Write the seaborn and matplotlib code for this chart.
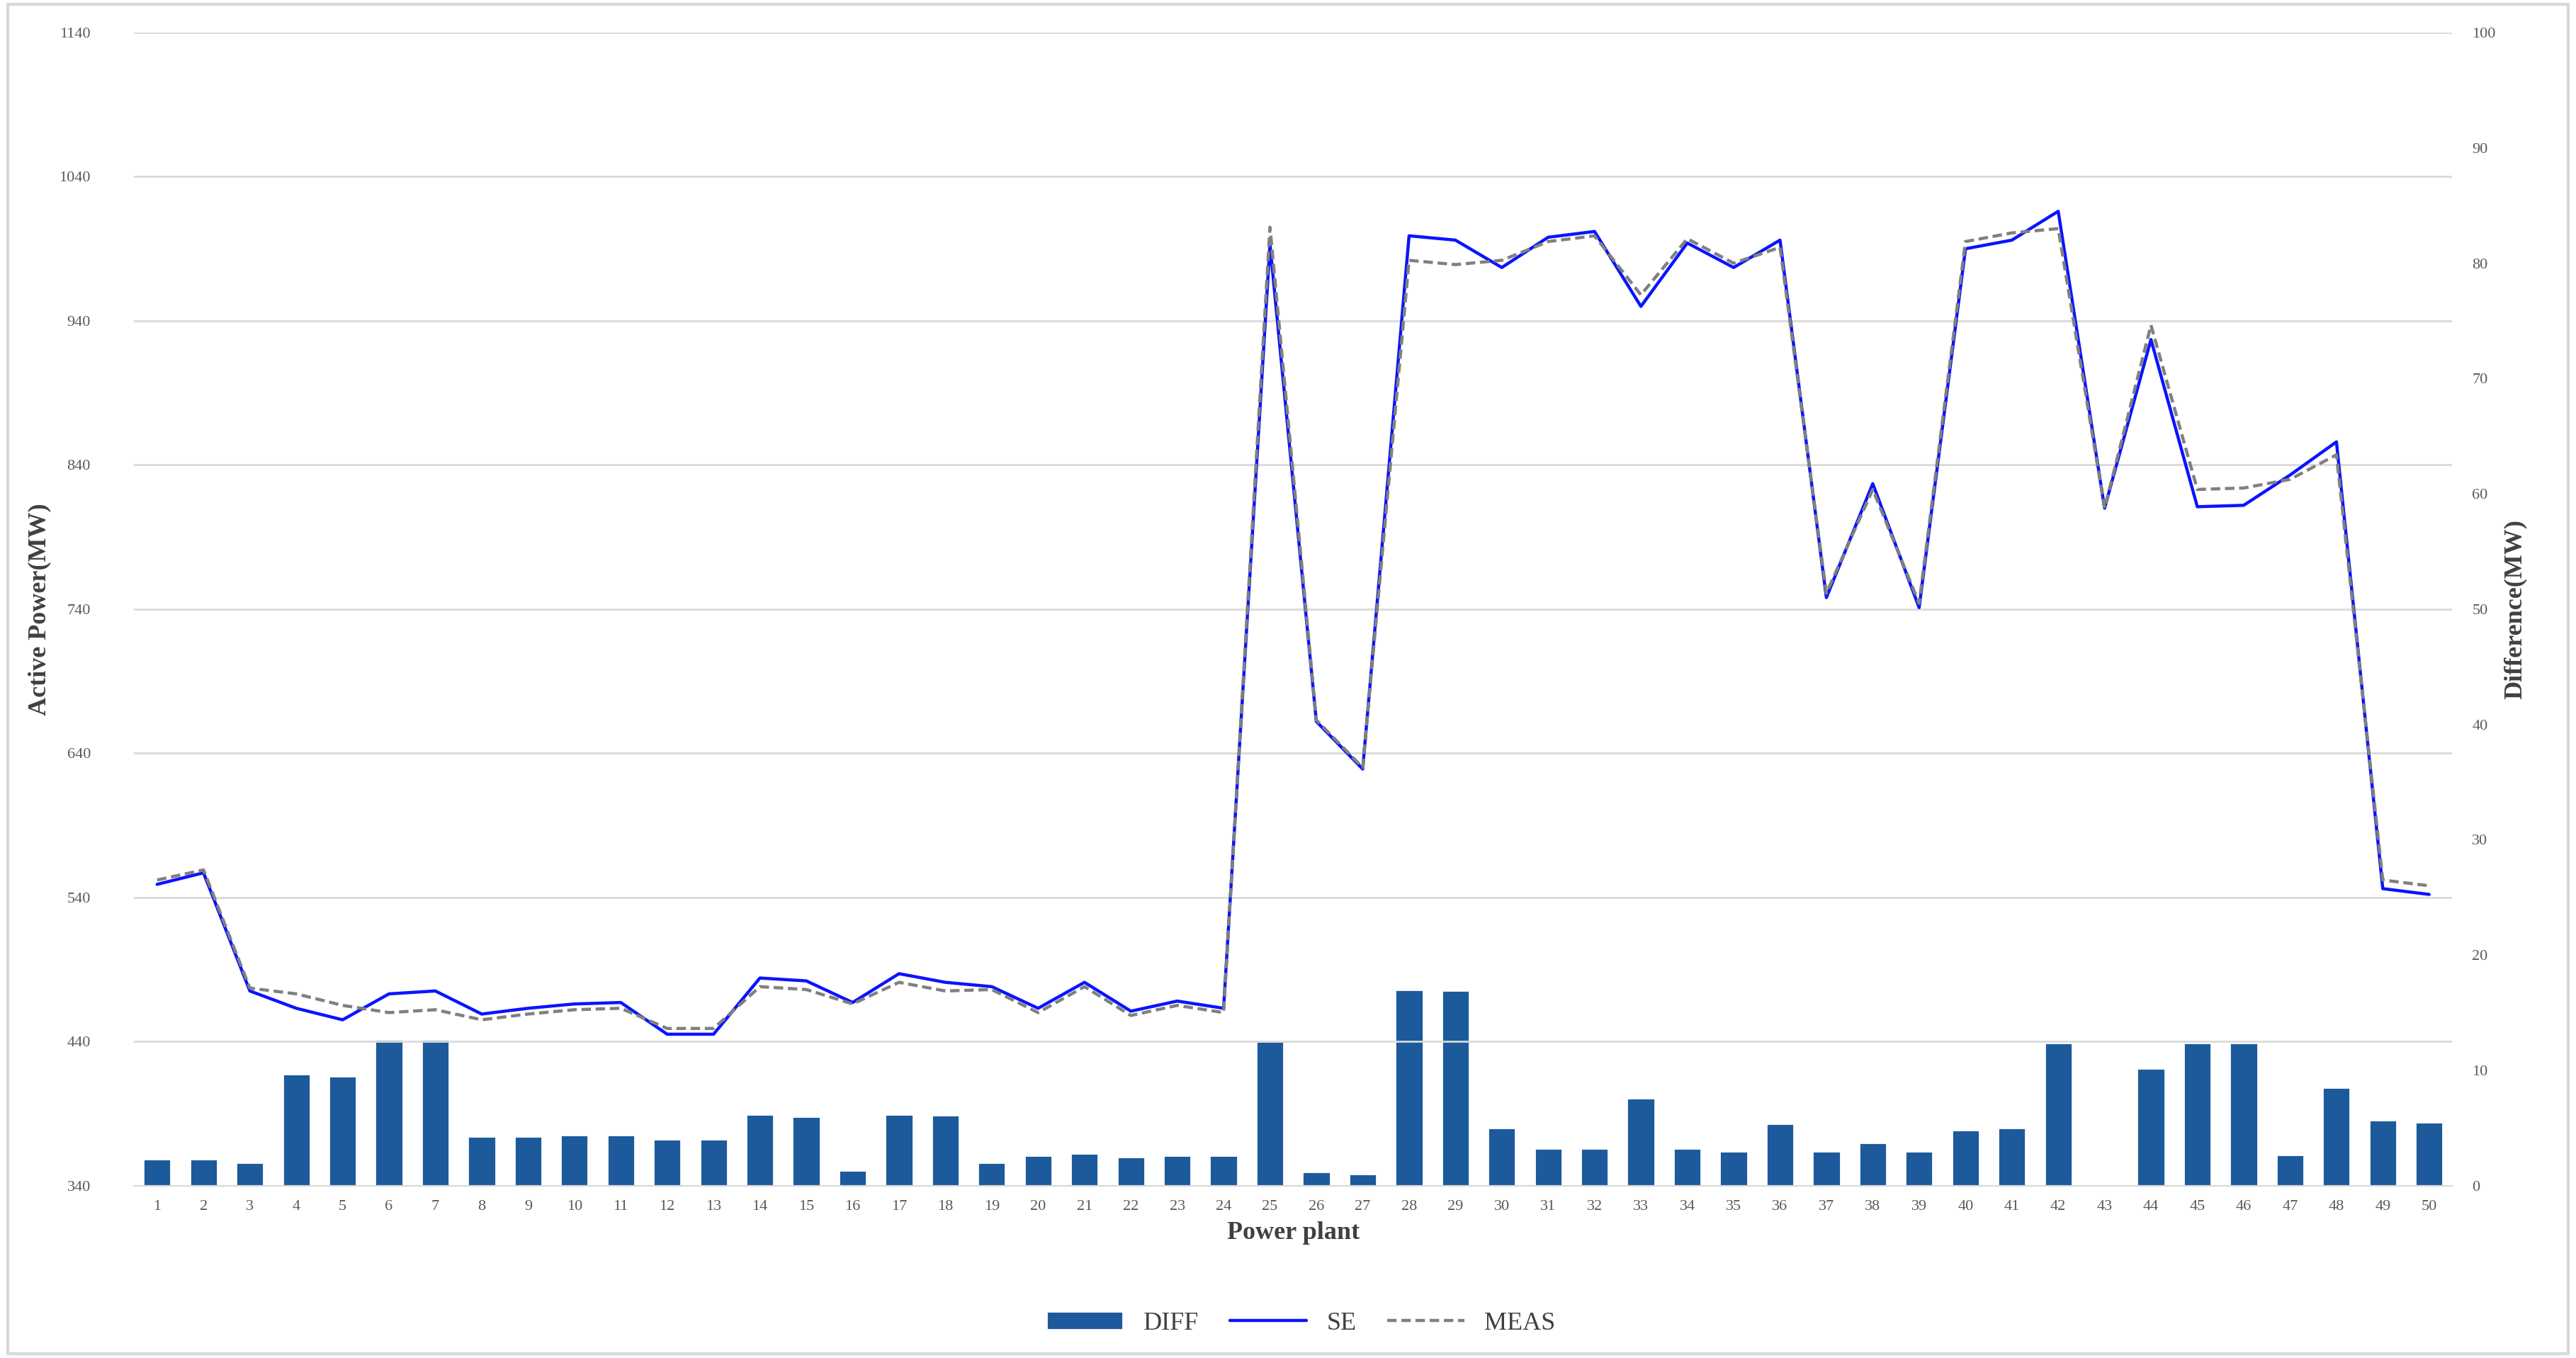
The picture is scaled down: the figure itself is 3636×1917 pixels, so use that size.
import matplotlib
matplotlib.use("Agg")
import matplotlib.pyplot as plt
import seaborn as sbn
import numpy as np
import pandas as pd

plants = [str(i) for i in range(1, 51)]

diff = [2.3, 2.3, 2.0, 9.7, 9.5, 12.7, 12.7, 4.3, 4.3, 4.4,
        4.4, 4.0, 4.0, 6.2, 6.0, 1.3, 6.2, 6.1, 2.0, 2.6,
        2.8, 2.5, 2.6, 2.6, 12.5, 1.2, 1.0, 17.0, 16.9, 5.0,
        3.2, 3.2, 7.6, 3.2, 3.0, 5.4, 3.0, 3.7, 3.0, 4.8,
        5.0, 12.4, 0.0, 10.2, 12.4, 12.4, 2.7, 8.5, 5.7, 5.5]

se = [549, 557, 475, 463, 455, 473, 475, 459, 463, 466,
      467, 445, 445, 484, 482, 467, 487, 481, 478, 463,
      481, 461, 468, 463, 993, 662, 629, 999, 996, 977,
      998, 1002, 950, 994, 977, 996, 748, 827, 741, 990,
      996, 1016, 810, 927, 811, 812, 833, 856, 546, 542]

meas = [552, 559, 477, 473, 465, 460, 462, 455, 459, 462,
        463, 449, 449, 478, 476, 466, 481, 475, 476, 460,
        478, 458, 465, 460, 1005, 663, 630, 982, 979, 982,
        995, 999, 958, 997, 980, 991, 751, 823, 744, 995,
        1001, 1004, 810, 937, 823, 824, 830, 847, 552, 548]

df = pd.DataFrame({"plant": plants, "pos": np.arange(len(plants)),
                   "DIFF": diff, "SE": se, "MEAS": meas})

sbn.set_style("white")
plt.rcParams['font.family'] = ['Liberation Serif', 'DejaVu Serif']

fig, ax = plt.subplots(figsize=(18.18, 9.585), dpi=200)
fig.subplots_adjust(left=0.052, right=0.952, top=0.976, bottom=0.127)
ax2 = ax.twinx()

sbn.barplot(data=df, x="pos", y="DIFF", ax=ax2, color="#1c5a9c",
            width=0.6, saturation=1, label="DIFF")
sbn.lineplot(data=df, x="pos", y="SE", ax=ax, color="#0a14ff",
             linewidth=1.6, label="SE")
sbn.lineplot(data=df, x="pos", y="MEAS", ax=ax, color="#808080",
             linewidth=1.6, linestyle=(0, (3, 1.5)), label="MEAS")

ax.set_zorder(ax2.get_zorder() + 1)
ax.patch.set_visible(False)

ax.set_ylim(340, 1140)
ax.set_yticks(range(340, 1141, 100))
ax2.set_ylim(0, 100)
ax2.set_yticks(range(0, 101, 10))
ax.set_xlim(-0.5, len(plants) - 0.5)
ax.set_xticks(df["pos"])
ax.set_xticklabels(plants)
ax2.grid(False)
ax.yaxis.grid(True, color="#d9d9d9", linewidth=1)
ax.set_axisbelow(True)

for a in (ax, ax2):
    a.tick_params(labelsize=8, colors="#595959", length=0)
    for s in a.spines.values():
        s.set_visible(False)
ax.spines["bottom"].set_visible(True)
ax.spines["bottom"].set_color("#d9d9d9")
ax.tick_params(axis="x", length=4, color="#d9d9d9")
ax.tick_params(axis="y", pad=22)
ax2.tick_params(axis="y", pad=10)

ax.set_xlabel("Power plant", fontsize=13, color="#404040", fontweight="bold")
ax.set_ylabel("Active Power(MW)", fontsize=13, color="#404040", fontweight="bold")
ax2.set_ylabel("Difference(MW)", fontsize=13, color="#404040", fontweight="bold")

h1, l1 = ax2.get_legend_handles_labels()
h2, l2 = ax.get_legend_handles_labels()
if ax2.get_legend():
    ax2.get_legend().remove()
ax.get_legend().remove()
fig.legend(h1 + h2, l1 + l2, loc="lower center", ncol=3, frameon=False,
           fontsize=13, bbox_to_anchor=(0.505, 0.0), handlelength=3,
           columnspacing=1.2, labelcolor="#404040")

fig.patches.append(plt.Rectangle((0.003, 0.003), 0.994, 0.994, transform=fig.transFigure,
                                 fill=False, edgecolor="#d9d9d9", linewidth=1.5))

fig.savefig("out.png", dpi=200)
